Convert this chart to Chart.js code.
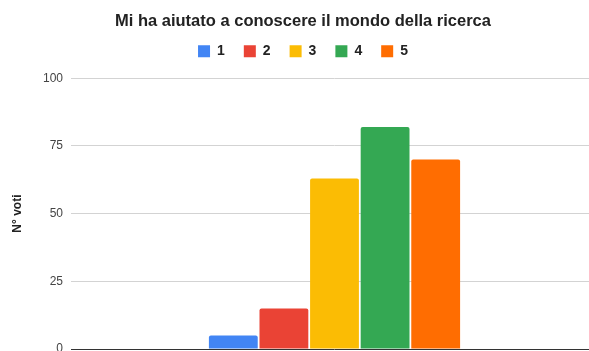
<!DOCTYPE html>
<html>
<head>
<meta charset="utf-8">
<script src="https://cdn.jsdelivr.net/npm/chart.js@4"></script>
<style>
  html, body { margin: 0; padding: 0; overflow: hidden; background: #fff; }
  #wrap { width: 606px; height: 370px; }
</style>
</head>
<body>
<div id="wrap"><canvas id="ricercaChart" width="606" height="370"></canvas></div>
<script>
const categories = [""];
const seriesNames = ["1", "2", "3", "4", "5"];
const seriesValues = [[5], [15], [63], [82], [70]];
const seriesColors = ["#4285F4", "#EA4335", "#FBBC04", "#34A853", "#FF6D01"];
const yTicks = [0, 25, 50, 75, 100];

Chart.defaults.font.family = "'Liberation Sans', Arial, sans-serif";

// extra space between legend and plot
const legendMargin = {
  id: "legendMargin",
  beforeInit(chart) {
    const fit = chart.legend.fit;
    chart.legend.fit = function () {
      fit.call(this);
      this.height += 10;
    };
  },
};

const ctx = document.getElementById("ricercaChart").getContext("2d");
new Chart(ctx, {
  type: "bar",
  data: {
    labels: categories,
    datasets: seriesNames.map((name, i) => ({
      label: name,
      data: seriesValues[i],
      backgroundColor: seriesColors[i],
      borderWidth: 0,
      borderRadius: 2,
      categoryPercentage: 0.48,
      barPercentage: 0.965,
    })),
  },
  options: {
    responsive: false,
    animation: false,
    layout: { padding: { left: 8, right: 8, top: 2, bottom: 21 } },
    plugins: {
      title: {
        display: true,
        text: "Mi ha aiutato a conoscere il mondo della ricerca",
        color: "#222",
        font: { size: 16.5, weight: "bold" },
        padding: { top: 10, bottom: -6.6 },
      },
      legend: {
        position: "top",
        labels: {
          boxWidth: 12,
          boxHeight: 12,
          padding: 19,
          color: "#222",
          font: { size: 14, weight: "bold" },
        },
      },
      tooltip: { enabled: false },
    },
    scales: {
      x: { display: false },
      y: {
        min: 0,
        max: 100,
        afterBuildTicks: (scale) => {
          scale.ticks = yTicks.map((v) => ({ value: v }));
        },
        afterFit: (scale) => {
          scale.width = 63;
        },
        border: { display: false },
        grid: {
          drawTicks: false,
          color: (c) => (c.tick && c.tick.value === 0 ? "#333" : "#d3d3d3"),
        },
        ticks: { padding: 8, color: "#444", font: { size: 12 } },
        title: {
          display: true,
          text: "N° voti",
          color: "#222",
          font: { size: 12, weight: "bold" },
          padding: { top: 2, bottom: 0 },
        },
      },
    },
  },
  plugins: [legendMargin],
});
</script>
</body>
</html>
